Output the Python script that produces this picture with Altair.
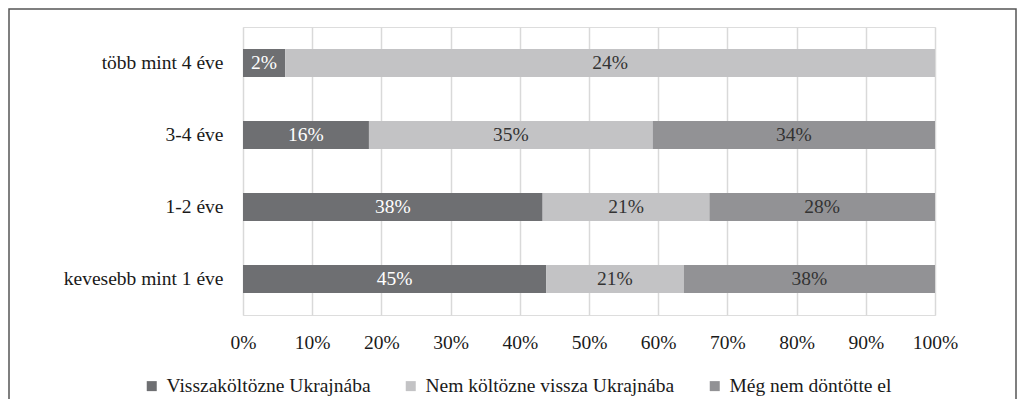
import altair as alt
import pandas as pd

categories = ["több mint 4 éve", "3-4 éve", "1-2 éve", "kevesebb mint 1 éve"]
series = ["Visszaköltözne Ukrajnába", "Nem költözne vissza Ukrajnába", "Még nem döntötte el"]
colors = ["#6e6f72", "#c3c3c5", "#929295"]

# bar shares (percent of bar length)
shares = {
    "több mint 4 éve": [6.1, 93.9, None],
    "3-4 éve": [18.2, 41.0, 40.8],
    "1-2 éve": [43.3, 24.1, 32.6],
    "kevesebb mint 1 éve": [43.8, 19.9, 36.3],
}
# printed labels (%)
labels = {
    "több mint 4 éve": [2, 24, None],
    "3-4 éve": [16, 35, 34],
    "1-2 éve": [38, 21, 28],
    "kevesebb mint 1 éve": [45, 21, 38],
}

rows = []
for c in categories:
    for i, s in enumerate(series):
        v = shares[c][i]
        if v is None:
            continue
        rows.append({"category": c, "series": s, "order": i, "share": v, "label": labels[c][i]})
df = pd.DataFrame(rows)

FONT = "'Liberation Serif', 'DejaVu Serif', serif"
FS = 19.5

base = alt.Chart(df)

y = alt.Y("category:N", sort=categories, title=None,
          scale=alt.Scale(paddingInner=0.61, paddingOuter=0.305),
          axis=alt.Axis(ticks=False, domain=False, labelPadding=20, labelFontSize=FS,
                        labelFont=FONT, labelColor="#1a1a1a"))

bars = base.mark_bar(size=28).encode(
    x=alt.X("share:Q", stack="normalize", title=None,
            scale=alt.Scale(domain=[0, 1]),
            axis=alt.Axis(format=".0%", values=[i / 10 for i in range(11)], ticks=False,
                          domain=False, grid=True, gridColor="#d9d9d9", gridWidth=1.5,
                          labelPadding=18, labelFontSize=FS, labelFont=FONT,
                          labelFlush=False, labelColor="#1a1a1a")),
    y=y,
    color=alt.Color("series:N", sort=series,
                    scale=alt.Scale(domain=series, range=colors),
                    legend=alt.Legend(title=None, orient="none", direction="horizontal",
                                      legendX=-101, legendY=349, symbolType="square",
                                      symbolSize=100, symbolStrokeWidth=0,
                                      labelFont=FONT, labelFontSize=FS, labelColor="#1a1a1a",
                                      labelLimit=500, columnPadding=30, symbolOffset=0,
                                      labelOffset=5)),
    order=alt.Order("order:Q"),
)

text = base.transform_joinaggregate(
    total="sum(share)", groupby=["category"]
).transform_window(
    cum="sum(share)", groupby=["category"], sort=[alt.SortField("order")]
).transform_calculate(
    mid="(datum.cum - datum.share / 2) / datum.total",
    txt="datum.label + '%'",
).mark_text(font=FONT, fontSize=FS, baseline="middle").encode(
    x=alt.X("mid:Q", scale=alt.Scale(domain=[0, 1])),
    y=alt.Y("category:N", sort=categories),
    text="txt:N",
    color=alt.condition(alt.datum.order == 0, alt.value("white"), alt.value("#333333")),
)

frame = alt.Chart(pd.DataFrame({"a": [0]})).mark_rect(
    fill=None, stroke="#555555", strokeWidth=1.5
).encode(x=alt.value(-234), x2=alt.value(773), y=alt.value(-18), y2=alt.value(420))

chart = alt.layer(frame, bars, text).properties(
    width=692, height=288,
    padding={"left": 235, "top": 19, "right": 82, "bottom": 84},
    autosize=alt.AutoSizeParams(type="none"),
).configure_view(stroke=None).configure(background="white")

chart.save("out.html", embed_options={"renderer": "svg", "actions": False})
